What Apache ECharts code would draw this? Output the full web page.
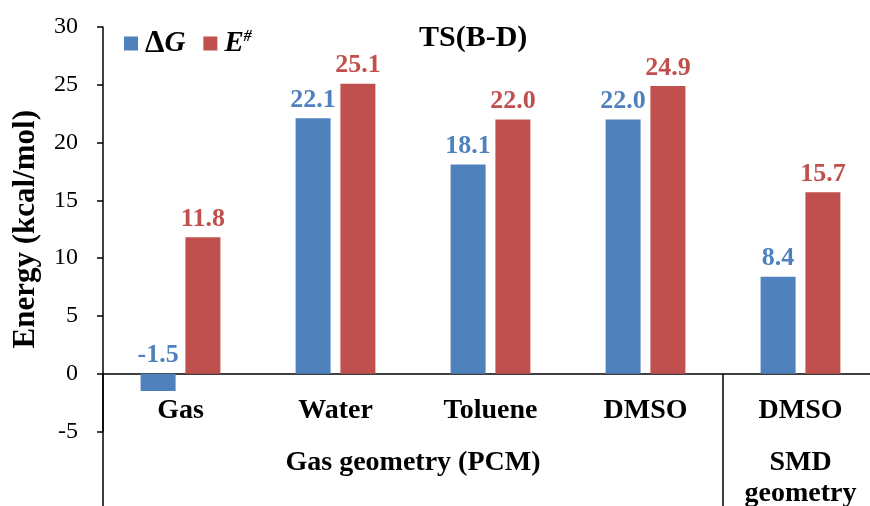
<!DOCTYPE html>
<html>
<head>
<meta charset="utf-8">
<script src="https://cdn.jsdelivr.net/npm/echarts@6/dist/echarts.min.js"></script>
<style>html,body{margin:0;padding:0;background:#fff;}#c{width:870px;height:506px;}</style>
</head>
<body>
<div id="c"></div>
<script>
const categories = ['Gas', 'Water', 'Toluene', 'DMSO', 'DMSO'];
const deltaG = [-1.5, 22.1, 18.1, 22.0, 8.4];
const eHash = [11.8, 25.1, 22.0, 24.9, 15.7];
const seriesNames = ['ΔG', 'E#'];
const groupLabels = ['Gas geometry (PCM)', 'SMD\ngeometry'];
const groupSpans = [[0, 3], [4, 4]];
const yTicks = { min: -5, max: 30, interval: 5 };

const FONT = "'Liberation Serif', 'Times New Roman', serif";
const BLUE = '#4F81BD';
const RED = '#C0504D';

const chart = echarts.init(document.getElementById('c'), null, { renderer: 'canvas' });

function labelFor(color) {
  return {
    show: true, position: 'top', distance: 5,
    color: color, fontFamily: FONT, fontWeight: 'bold', fontSize: 26,
    formatter: p => p.value.toFixed(1)
  };
}

const option = {
  animation: false,
  backgroundColor: '#fff',
  textStyle: { fontFamily: FONT },
  title: {
    text: 'TS(B-D)', left: 414, top: 18,
    textStyle: { fontFamily: FONT, fontWeight: 'bold', fontSize: 30, color: '#000' }
  },
  legend: {
    left: 124, top: 28, padding: 0, itemWidth: 14, itemHeight: 14, itemGap: 18,
    icon: 'rect',
    data: seriesNames,
    formatter: n => n === 'ΔG' ? '{d|Δ}{i|G}' : '{i|E}{s|#}',
    textStyle: {
      fontFamily: FONT, fontSize: 28, color: '#000', padding: [0, 0, 0, 2],
      rich: {
        d: { fontFamily: FONT, fontSize: 31, fontWeight: 'bold', color: '#000' },
        i: { fontFamily: FONT, fontSize: 29, fontWeight: 'bold', fontStyle: 'italic', color: '#000' },
        s: { fontFamily: FONT, fontSize: 16, fontWeight: 'bold', fontStyle: 'italic', color: '#000', verticalAlign: 'top', padding: [0, 0, 10, 0] }
      }
    }
  },
  grid: { left: 103, top: 27, width: 775, bottom: 74.5, containLabel: false, outerBoundsMode: 'none' },
  xAxis: {
    type: 'category', data: categories,
    axisLine: { onZero: true, lineStyle: { color: '#000', width: 1.5 } },
    axisTick: {
      show: true, length: 134, interval: (i) => i === 0 || i === 4,
      lineStyle: { color: '#000', width: 1.5 }
    },
    axisLabel: {
      interval: 0, margin: -35, color: '#000',
      fontFamily: FONT, fontWeight: 'bold', fontSize: 28
    },
    splitLine: { show: false }
  },
  yAxis: {
    type: 'value', min: yTicks.min, max: yTicks.max, interval: yTicks.interval,
    name: 'Energy (kcal/mol)', nameLocation: 'middle', nameGap: 62,
    nameTextStyle: { fontFamily: FONT, fontWeight: 'bold', fontSize: 31, color: '#000' },
    axisLine: { show: true, lineStyle: { color: '#000', width: 1.5 } },
    axisTick: { show: true, length: 6, lineStyle: { color: '#000', width: 1.5 } },
    axisLabel: { margin: 25, color: '#000', fontFamily: FONT, fontSize: 24 },
    splitLine: { show: false }
  },
  series: [
    { name: seriesNames[0], type: 'bar', data: deltaG, barWidth: 35, barGap: '28%',
      itemStyle: { color: BLUE }, label: labelFor(BLUE) },
    { name: seriesNames[1], type: 'bar', data: eHash, barWidth: 35, barGap: '28%',
      itemStyle: { color: RED }, label: labelFor(RED) }
  ]
};
chart.setOption(option);

// group labels beneath category labels, positioned from the axis scale
const graphics = groupSpans.map((span, k) => {
  const a = chart.convertToPixel({ xAxisIndex: 0 }, span[0]);
  const b = chart.convertToPixel({ xAxisIndex: 0 }, span[1]);
  const zeroY = chart.convertToPixel({ yAxisIndex: 0 }, 0);
  return {
    type: 'text',
    x: (a + b) / 2, y: zeroY + 74,
    style: {
      text: groupLabels[k], fontFamily: FONT, fontWeight: 'bold', fontSize: 28,
      fill: '#000', align: 'center', verticalAlign: 'top', lineHeight: 31
    }
  };
});
chart.setOption({ graphic: graphics });
</script>
</body>
</html>
